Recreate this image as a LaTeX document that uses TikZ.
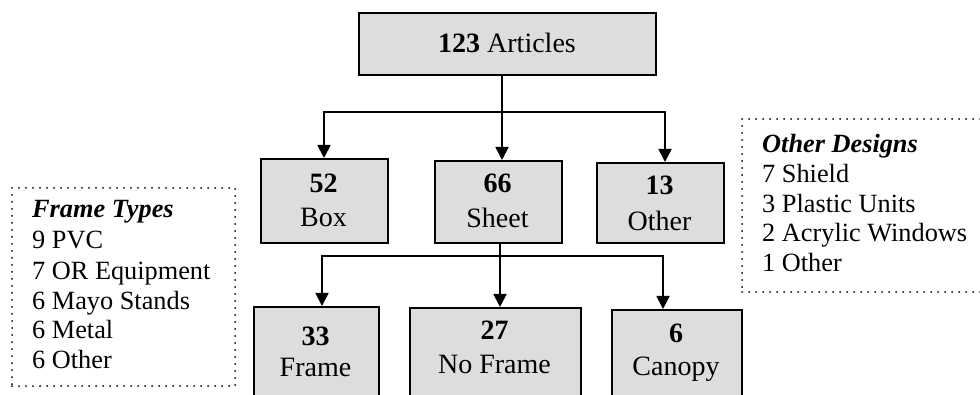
\documentclass[tikz,border=0pt]{standalone}
\usepackage{fontspec}
\setmainfont{Liberation Serif}
\usetikzlibrary{arrows.meta}
\definecolor{boxfill}{HTML}{DDDDDD}
\begin{document}
\begin{tikzpicture}[x=1pt,y=-1pt,
  boxst/.style={draw=black, line width=1.8pt, fill=boxfill, rectangle, inner sep=0pt, anchor=north west},
  dotbox/.style={draw=black, line width=2pt, dash pattern=on 0pt off 7pt, line cap=round, rectangle, inner sep=0pt, anchor=north west},
  lbl/.style={font=\fontsize{28}{32}\selectfont, inner sep=0pt, anchor=base},
  lst/.style={font=\fontsize{26.3}{30}\selectfont, inner sep=0pt, anchor=base west},
  conn/.style={draw=black, line width=1.8pt},
  arr/.style={conn, -{Triangle[length=13pt,width=13pt]}}]
\useasboundingbox (0,0) rectangle (980,395);
\clip (0,0) rectangle (980,395);
\fill[white] (0,0) rectangle (980,395);
% boxes
\node[boxst, minimum width=297pt, minimum height=62pt] (top) at (358,12) {};
\node[boxst, minimum width=127pt, minimum height=84pt] (box) at (260,158) {};
\node[boxst, minimum width=127pt, minimum height=82pt] (sheet) at (434,160) {};
\node[boxst, minimum width=127pt, minimum height=80pt] (other) at (596,162) {};
\node[boxst, minimum width=125pt, minimum height=120pt] (frame) at (253,306) {};
\node[boxst, minimum width=171pt, minimum height=120pt] (noframe) at (409,307) {};
\node[boxst, minimum width=130pt, minimum height=120pt] (canopy) at (611,309) {};
% texts in boxes
\node[lbl] (ttop) at (507,53) {\textbf{123} Articles};
\node[lbl] (tbox1) at (323.5,193) {\textbf{52}};
\node[lbl] (tbox2) at (323.5,227) {Box};
\node[lbl] (tsh1) at (497.5,193) {\textbf{66}};
\node[lbl] (tsh2) at (497.5,228) {Sheet};
\node[lbl] (tot1) at (659.5,195) {\textbf{13}};
\node[lbl] (tot2) at (659.5,231) {Other};
\node[lbl] (tfr1) at (315.5,345) {\textbf{33}};
\node[lbl] (tfr2) at (315.5,377) {Frame};
\node[lbl] (tnf1) at (494.5,340) {\textbf{27}};
\node[lbl] (tnf2) at (494.5,373) {No Frame};
\node[lbl] (tca1) at (676,342) {\textbf{6}};
\node[lbl] (tca2) at (676,375) {Canopy};
% connectors level 1
\coordinate (j1) at (502,112);
\coordinate (j1l) at (324,112);
\coordinate (j1r) at (665,112);
\draw[conn] (top.south -| j1) -- (j1);
\draw[arr] (j1) -- (sheet.north -| j1);
\draw[arr] (j1) -- (j1l) -- (box.north -| j1l);
\draw[arr] (j1) -- (j1r) -- (other.north -| j1r);
% connectors level 2
\coordinate (j2) at (500,256);
\coordinate (j2l) at (322,256);
\coordinate (j2r) at (663,256);
\draw[conn] (sheet.south -| j2) -- (j2);
\draw[arr] (j2) -- (noframe.north -| j2);
\draw[arr] (j2) -- (j2l) -- (frame.north -| j2l);
\draw[arr] (j2) -- (j2r) -- (canopy.north -| j2r);
% dotted boxes
\node[dotbox, minimum width=223pt, minimum height=198pt] (ftbox) at (11,187) {};
\node[dotbox, minimum width=260pt, minimum height=173pt] (odbox) at (741,118) {};
% frame types list
\node[lst] (f0) at (32,218) {\textbf{\textit{Frame Types}}};
\node[lst] (f1) at (32,249) {9 PVC};
\node[lst] (f2) at (32,280) {7 OR Equipment};
\node[lst] (f3) at (32,309) {6 Mayo Stands};
\node[lst] (f4) at (32,338) {6 Metal};
\node[lst] (f5) at (32,368) {6 Other};
% other designs list
\node[lst] (o0) at (762,153) {\textbf{\textit{Other Designs}}};
\node[lst] (o1) at (762,183) {7 Shield};
\node[lst] (o2) at (762,213) {3 Plastic Units};
\node[lst] (o3) at (762,242) {2 Acrylic Windows};
\node[lst] (o4) at (762,272) {1 Other};
\end{tikzpicture}
\end{document}
